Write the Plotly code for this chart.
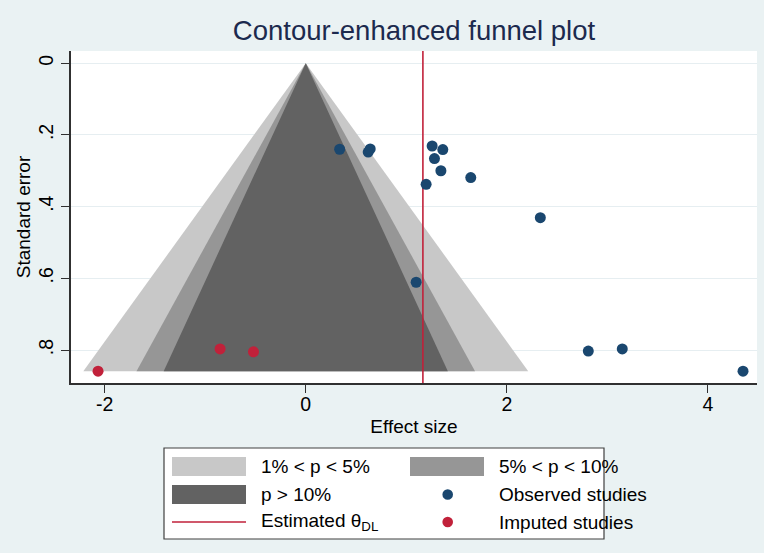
import plotly.graph_objects as go

# ---------------- data ----------------
obs_effect = [0.337, 0.621, 0.641, 1.257, 1.363, 1.280, 1.344, 1.641, 1.197, 1.098, 2.333, 2.810, 3.148, 4.349]
obs_se     = [0.240, 0.248, 0.239, 0.231, 0.241, 0.266, 0.300, 0.319, 0.338, 0.611, 0.431, 0.803, 0.797, 0.859]
imp_effect = [-2.066, -0.852, -0.520]
imp_se     = [0.859, 0.797, 0.805]
theta_dl = 1.165
null_effect = 0.0
se_max = 0.859
contour_labels = ["1% < p < 5%", "5% < p < 10%", "p > 10%"]
contour_z = [2.576, 1.960, 1.645]   # two-sided z for p = .01, .05, .10
x_ticks = [-2, 0, 2, 4]
x_ticklabels = ["-2", "0", "2", "4"]
y_ticks = [0, 0.2, 0.4, 0.6, 0.8]
y_ticklabels = ["0", ".2", ".4", ".6", ".8"]

# ---------------- styles ----------------
BG = "#eaf2f3"
FUNNEL_COLORS = ["#c8c8c8", "#969696", "#626262"]
BLUE = "#1a476f"
RED = "#c1213a"
FONT = "Liberation Sans, Arial, sans-serif"
W, H = 764, 553
L, R, T, B = 71, 757, 51, 383
X_RANGE = [-2.335, 4.488]
Y_RANGE = [0.892, -0.034]

fig = go.Figure()

for z, col, lab in zip(contour_z, FUNNEL_COLORS, contour_labels):
    fig.add_trace(go.Scatter(
        x=[null_effect, null_effect - z * se_max, null_effect + z * se_max, null_effect],
        y=[0, se_max, se_max, 0],
        fill="toself", fillcolor=col, mode="none", name=lab,
        hoverinfo="skip", showlegend=False))

# estimated theta line spanning the whole plot height (between funnel and markers)
fig.add_trace(go.Scatter(x=[theta_dl, theta_dl], y=[Y_RANGE[1], Y_RANGE[0]], mode="lines",
                         line=dict(color=RED, width=1.6), name="Estimated θDL",
                         hoverinfo="skip", showlegend=False))

fig.add_trace(go.Scatter(x=obs_effect, y=obs_se, mode="markers", name="Observed studies",
                         marker=dict(color=BLUE, size=11), showlegend=False))
fig.add_trace(go.Scatter(x=imp_effect, y=imp_se, mode="markers", name="Imputed studies",
                         marker=dict(color=RED, size=11), showlegend=False))

def px(xp):
    return (xp - L) / (R - L)

def py(yp):
    return (B - yp) / (B - T)

shapes = []
annots = []

# ---- manual Stata-style legend ----
shapes.append(dict(type="rect", xref="paper", yref="paper",
                   x0=px(164), x1=px(604), y0=py(539), y1=py(448),
                   fillcolor="white", line=dict(color="#404040", width=1.2), layer="above"))
sw = [(172, 246, 457, 476, FUNNEL_COLORS[0]),
      (410, 484, 457, 476, FUNNEL_COLORS[1]),
      (172, 246, 485, 504, FUNNEL_COLORS[2])]
for x0, x1, y0, y1, c in sw:
    shapes.append(dict(type="rect", xref="paper", yref="paper",
                       x0=px(x0), x1=px(x1), y0=py(y1), y1=py(y0),
                       fillcolor=c, line=dict(width=0), layer="above"))
shapes.append(dict(type="line", xref="paper", yref="paper",
                   x0=px(172), x1=px(246), y0=py(522), y1=py(522),
                   line=dict(color=RED, width=1.5), layer="above"))
for yy, c in [(494.5, BLUE), (522, RED)]:
    shapes.append(dict(type="circle", xref="paper", yref="paper",
                       x0=px(447.7 - 5.3), x1=px(447.7 + 5.3),
                       y0=py(yy + 5.3), y1=py(yy - 5.3),
                       fillcolor=c, line=dict(width=0), layer="above"))

leg_text = [(259, 466.5, contour_labels[0]), (497, 466.5, contour_labels[1]),
            (259, 494.5, contour_labels[2]), (497, 494.5, "Observed studies"),
            (259, 522, "Estimated θ<sub>DL</sub>"), (497, 522, "Imputed studies")]
for x0, y0, t in leg_text:
    annots.append(dict(text=t, xref="paper", yref="paper", x=px(x0), y=py(y0),
                       xanchor="left", yanchor="middle", showarrow=False,
                       font=dict(family=FONT, size=19, color="#000")))

fig.update_layout(
    width=W, height=H,
    paper_bgcolor=BG, plot_bgcolor="white",
    margin=dict(l=L, r=W - R, t=T, b=H - B, pad=0),
    showlegend=False,
    font=dict(family=FONT, size=19, color="#000"),
    title=dict(text="Contour-enhanced funnel plot", x=0.5, xref="paper",
               y=1 - 30 / H, yref="container", yanchor="middle", xanchor="center",
               font=dict(family=FONT, size=27.5, color="#1c2a4e")),
    xaxis=dict(range=X_RANGE, tickvals=x_ticks, ticktext=x_ticklabels,
               showgrid=False, zeroline=False, showline=True, linecolor="#303030",
               linewidth=1.5, ticks="outside", ticklen=8, tickwidth=1.3, tickcolor="#303030",
               tickfont=dict(size=19.5), ticklabelstandoff=-5,
               title=dict(text="Effect size", font=dict(size=19), standoff=6)),
    yaxis=dict(range=Y_RANGE, tickvals=y_ticks, ticktext=y_ticklabels,
               showgrid=True, gridcolor="#e6eef1", gridwidth=1.2,
               zeroline=False, showline=True, linecolor="#303030",
               linewidth=1.5, ticks="outside", ticklen=8, tickwidth=1.3, tickcolor="#303030",
               tickangle=-90, tickfont=dict(size=19.5),
               title=dict(text="Standard error", font=dict(size=19), standoff=0)),
    shapes=shapes, annotations=annots,
)

fig.write_html("out.html", config={"displayModeBar": False},
               post_script="document.body.style.margin='0';document.body.style.overflow='hidden';")
